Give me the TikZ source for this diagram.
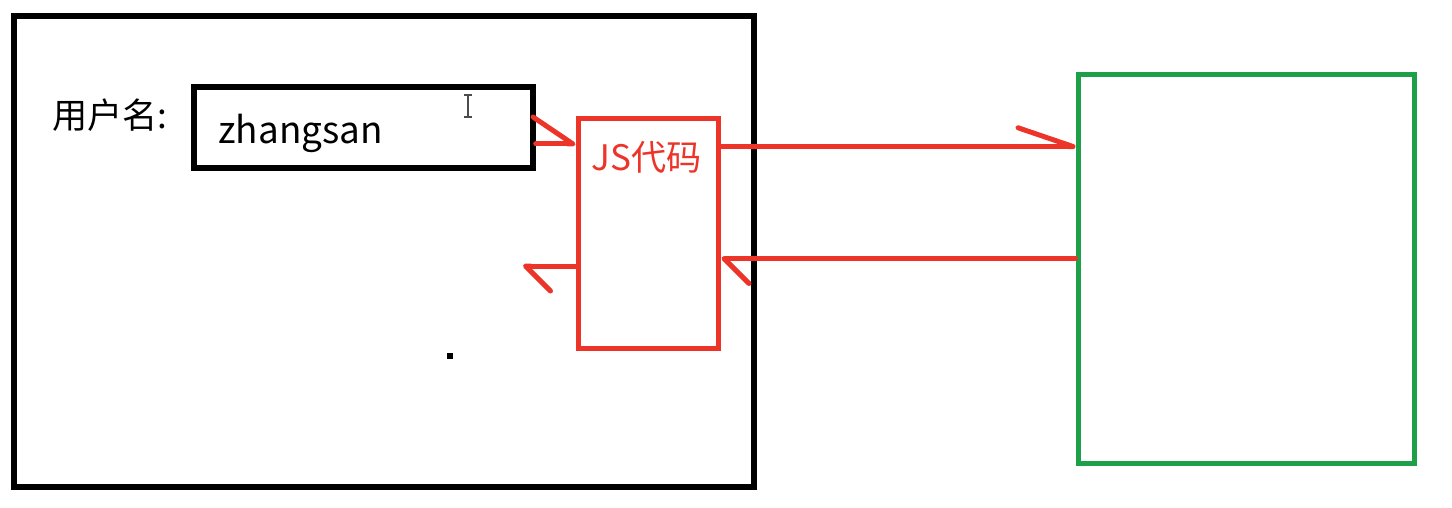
\documentclass[tikz,border=0pt]{standalone}
\usepackage{fontspec}
\newfontfamily\cjk{Noto Sans CJK SC}
\usetikzlibrary{arrows.meta,positioning}
\definecolor{CodeRed}{RGB}{236,52,40}
\definecolor{ServerGreen}{RGB}{30,160,72}
\tikzset{
  box/.style={draw=black,line width=.11cm,inner sep=0pt},
  jsbox/.style={box,draw=CodeRed,line width=.1cm},
  srvbox/.style={box,draw=ServerGreen,line width=.1cm},
  txt/.style={font=\cjk\fontsize{20}{24}\selectfont,inner sep=0pt,anchor=base west},
  link/.style={draw=CodeRed,line width=.1cm,line cap=round,-{Straight Barb[harpoon,round,length=.5cm,width=1cm]}}
}
\begin{document}
\begin{tikzpicture}[x=0.02cm,y=-0.02cm]
  \useasboundingbox (0,0) rectangle (1452,507);
  % browser page
  \node[box,minimum width=14.8cm,minimum height=9.42cm] (page) at (384,251.5) {};
  \node[txt] (lbl) at (52,128) {用户名:};
  \node[box,minimum width=6.78cm,minimum height=1.62cm] (user) at (363.5,127.5) {};
  \node[txt,font=\cjk\fontsize{21}{24}\selectfont] (name) at (218,143) {zhangsan};
  % js code
  \node[jsbox,minimum width=2.82cm,minimum height=4.62cm] (js) at (648.5,233.5) {};
  \node[txt,text=CodeRed] (jslbl) at (591,170) {JS代码};
  % server
  \node[srvbox,minimum width=6.74cm,minimum height=7.8cm] (srv) at (1246.5,269) {};
  \coordinate (back) at (523,266);
    \draw[link,-{Straight Barb[harpoon,round,length=.8cm,width=1.08cm]}] ([yshift=-.33cm]user.east) -- ([yshift=-.33cm]user.east -| js.west);
    \draw[link,-{Straight Barb[harpoon,round,length=1.1cm,width=.75cm]}] ([yshift=-.62cm]js.north east) -- ([yshift=-.62cm]js.north east -| srv.west);
    \draw[link] ([yshift=-2.86cm]js.north east -| srv.west) -- ([yshift=-2.86cm]js.north east);
    \draw[link] (back -| js.west) -- (back);
  % cursor and dot
  \draw[line width=.6pt,black!70] (468,95) -- (468,117) (464,95) -- (472,95) (464,117) -- (472,117);
  \fill (447,353) rectangle (453,359);
\end{tikzpicture}
\end{document}
